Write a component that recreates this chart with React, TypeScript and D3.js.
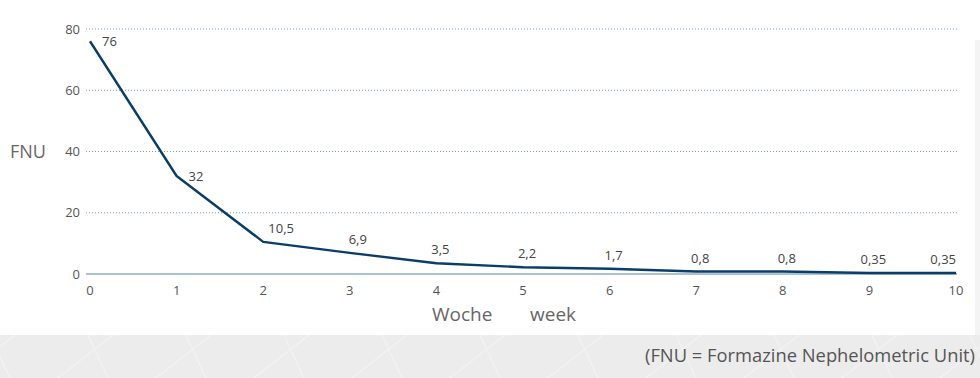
import React from "react";
import * as d3 from "d3";

const weeks = [0, 1, 2, 3, 4, 5, 6, 7, 8, 9, 10];
const fnuValues = [76, 32, 10.5, 6.9, 3.5, 2.2, 1.7, 0.8, 0.8, 0.35, 0.35];
const valueLabels = ["76", "32", "10,5", "6,9", "3,5", "2,2", "1,7", "0,8", "0,8", "0,35", "0,35"];
const yTicks = [0, 20, 40, 60, 80];
const xTicks = [0, 1, 2, 3, 4, 5, 6, 7, 8, 9, 10];

const W = 980;
const H = 378;
const FONT = "'Open Sans', 'Noto Sans', sans-serif";

export default function App() {
  const x = d3.scaleLinear().domain([0, 10]).range([90, 956]);
  const y = d3.scaleLinear().domain([0, 80]).range([274, 29]);
  const line = d3
    .line<number>()
    .x((_, i) => x(weeks[i]))
    .y((d) => y(d));

  const patA = d3.range(-40, W + 80, 98);
  const patB = d3.range(-10, W + 80, 98);

  return (
    <div style={{ position: "absolute", left: 0, top: 0 }}>
      <svg width={W} height={H} style={{ display: "block", background: "#fff" }}>
        <defs>
          <clipPath id="band">
            <rect x={0} y={335} width={W} height={H - 335} />
          </clipPath>
        </defs>
        <rect x={975} y={40} width={5} height={295} fill="#f4f4f4" />
        <rect x={0} y={335} width={W} height={H - 335} fill="#ececec" />
        <g clipPath="url(#band)" stroke="#f3f3f3" strokeWidth={1.2}>
          {patA.map((p) => (
            <line key={"a" + p} x1={p} y1={378} x2={p + 55} y2={335} />
          ))}
          {patB.map((p) => (
            <line key={"b" + p} x1={p} y1={335} x2={p + 20} y2={378} />
          ))}
        </g>

        {yTicks.filter((t) => t > 0).map((t) => (
          <line
            key={t}
            x1={86}
            x2={957}
            y1={y(t)}
            y2={y(t)}
            stroke="#7f9bb5"
            strokeWidth={1}
            strokeDasharray="1,2"
          />
        ))}
        <line x1={86} x2={957} y1={y(0)} y2={y(0)} stroke="#8eaecb" strokeWidth={1.6} />

        {yTicks.map((t) => (
          <text
            key={t}
            x={80}
            y={y(t)}
            dy="0.35em"
            textAnchor="end"
            fontFamily={FONT}
            fontSize={13}
            fill="#555"
          >
            {t}
          </text>
        ))}
        {xTicks.map((t) => (
          <text
            key={t}
            x={x(t)}
            y={295}
            textAnchor="middle"
            fontFamily={FONT}
            fontSize={13}
            fill="#555"
          >
            {t}
          </text>
        ))}

        <text x={10} y={158} fontFamily={FONT} fontSize={18} fill="#666">
          FNU
        </text>
        <text x={432} y={321} fontFamily={FONT} fontSize={19} fill="#666">
          Woche
        </text>
        <text x={530} y={321} fontFamily={FONT} fontSize={19} fill="#666">
          week
        </text>

        <path d={line(fnuValues) || ""} fill="none" stroke="#0a3d6a" strokeWidth={2.4} strokeLinejoin="round" />

        {fnuValues.map((v, i) => {
          const px = x(weeks[i]);
          const py = y(v);
          if (i < 2) {
            return (
              <text key={i} x={px + 12} y={py + 5} fontFamily={FONT} fontSize={13} fill="#444">
                {valueLabels[i]}
              </text>
            );
          }
          const last = i === fnuValues.length - 1;
          return (
            <text
              key={i}
              x={last ? px : px + (i === 2 ? 18 : i === 3 ? 8 : 4)}
              y={py - 9}
              textAnchor={last ? "end" : "middle"}
              fontFamily={FONT}
              fontSize={13}
              fill="#444"
            >
              {valueLabels[i]}
            </text>
          );
        })}

        <text
          x={975}
          y={362}
          textAnchor="end"
          fontFamily={FONT}
          fontSize={18}
          fill="#555"
          textLength={330}
          lengthAdjust="spacingAndGlyphs"
        >
          (FNU = Formazine Nephelometric Unit)
        </text>
      </svg>
    </div>
  );
}
